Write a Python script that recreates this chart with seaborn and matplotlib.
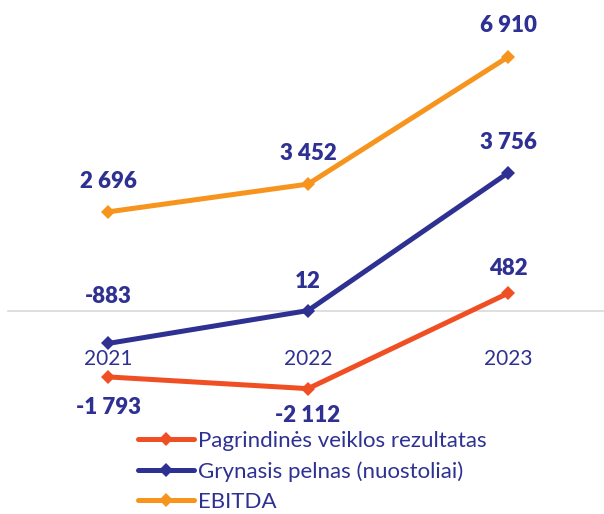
import pandas as pd
import matplotlib
matplotlib.use("Agg")
import matplotlib.pyplot as plt
import seaborn as sns

years = ["2021", "2022", "2023"]
series_names = ["Pagrindinės veiklos rezultatas", "Grynasis pelnas (nuostoliai)", "EBITDA"]
pagrindine = [-1793, -2112, 482]
grynasis = [-883, 12, 3756]
ebitda = [2696, 3452, 6910]

navy = "#2E3192"
colors = ["#F04E23", "#2E3192", "#F7941D"]

# long format table for seaborn
df = pd.DataFrame({
    "year": years * 3,
    "value": pagrindine + grynasis + ebitda,
    "series": [s for s in series_names for _ in years],
})

sns.set_style("white")
plt.rcParams["font.family"] = ["Lato", "DejaVu Sans"]

fig = plt.figure(figsize=(6.04, 5.14), dpi=100)
ax = fig.add_axes([8 / 604, 1 - 420 / 514, 596 / 604, 410 / 514])

sns.lineplot(data=df, x="year", y="value", hue="series", hue_order=series_names,
             palette=colors, marker="D", markersize=7, markeredgewidth=0,
             linewidth=3.6, ax=ax, sort=False)

ax.set_xlim(-0.5, 2.48)
ax.set_ylim(-2965, 8188)

# zero line via bottom spine
for s in ["top", "right", "left"]:
    ax.spines[s].set_visible(False)
ax.spines["bottom"].set_position(("data", 0))
ax.spines["bottom"].set_color("#d9d9d9")
ax.spines["bottom"].set_linewidth(1.2)
ax.spines["bottom"].set_zorder(0)
ax.set_yticks([])
ax.tick_params(axis="x", length=0, pad=27, labelsize=15, labelcolor=navy)
ax.set_xlabel("")
ax.set_ylabel("")

def fmt(v):
    return f"{v:,}".replace(",", " ")

# data labels: offset in points, above or below
offsets = {
    series_names[0]: [-22, -19, 18],
    series_names[1]: [34, 21, 22],
    series_names[2]: [22, 22, 23],
}
for name, vals in zip(series_names, [pagrindine, grynasis, ebitda]):
    for i, v in enumerate(vals):
        ax.annotate(fmt(v), (i, v), xytext=(0, offsets[name][i]), textcoords="offset points",
                    ha="center", va="center", fontsize=16, fontweight="heavy", color=navy)

leg = ax.legend(loc="upper left", bbox_to_anchor=(138 / 604, 1 - 431 / 514),
                bbox_transform=fig.transFigure, frameon=False, fontsize=16,
                handlelength=2.5, handletextpad=0.2, labelspacing=0.45,
                borderaxespad=0, borderpad=0)
for t in leg.get_texts():
    t.set_color(navy)

fig.savefig("out.png", dpi=100)
